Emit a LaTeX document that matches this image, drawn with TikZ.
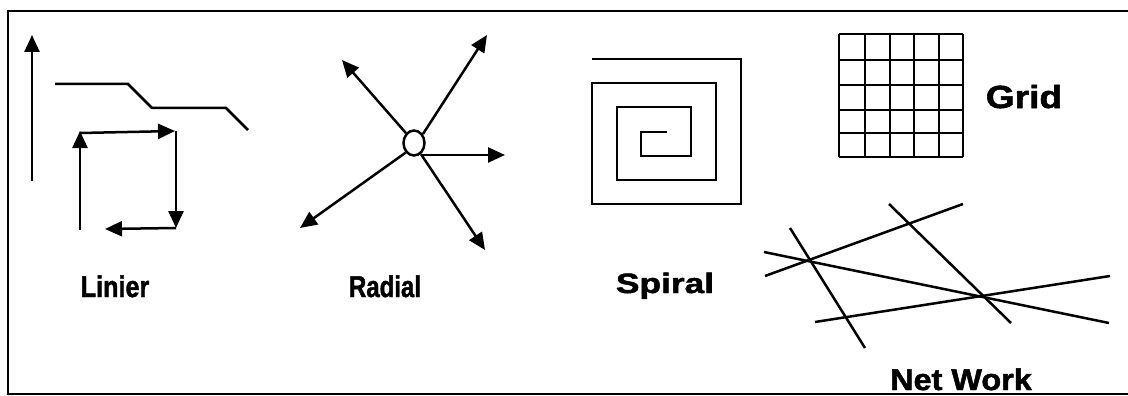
\documentclass[tikz,border=0pt]{standalone}
\usepackage{fontspec}
\setmainfont{Liberation Sans}
\newfontfamily\heavyfont[FakeBold=1.6]{Liberation Sans Bold}
\usetikzlibrary{arrows.meta,shapes.geometric}
\begin{document}
\begin{tikzpicture}[x=1pt,y=-1pt,
  ln/.style={line width=2.5pt},
  arr/.style={ln,-{Triangle[length=17pt,width=15pt]}},
  lbl/.style={inner sep=0pt,anchor=base,font=\heavyfont}]
\useasboundingbox (0,0) rectangle (1128,396);
% frame (open on the right)
\draw[ln] (1128,11) -- (8,11) -- (8,394) -- (1128,394);

% ---------- Linier ----------
\coordinate (v0) at (32,181); \coordinate (v1) at (32,35);
\draw[arr] (v0) -- (v1);
\draw[ln] (55,84) -- (128,84) -- (152,108) -- (226,108) -- (248,130);
\coordinate (s0) at (80,230); \coordinate (s1) at (80,131);
\coordinate (s2) at (80,133); \coordinate (s3) at (175,131);
\coordinate (s4) at (176,131); \coordinate (s5) at (176,228);
\coordinate (s6) at (176,228); \coordinate (s7) at (105,229);
\draw[arr] (s0) -- (s1);
\draw[arr] (s2) -- (s3);
\draw[arr] (s4) -- (s5);
\draw[arr] (s6) -- (s7);
\node[lbl] (tLin) at (115,297) {\fontsize{30}{30}\selectfont\scalebox{0.84}[1]{Linier}};

% ---------- Radial ----------
\node[draw,ellipse,ln,minimum width=21pt,minimum height=25pt,inner sep=0pt] (hub) at (414,143) {};
\coordinate (r1) at (342,60);
\coordinate (r2) at (487,35);
\coordinate (r3) at (505,155);
\coordinate (r4) at (485,250);
\coordinate (r5) at (300,228);
\draw[arr] (hub.129) -- (r1);
\draw[arr] (hub.45) -- (r2);
\draw[arr] (hub.-50 |- r3) -- (r3);
\draw[arr] (hub.-58) -- (r4);
\draw[arr] (hub.-131) -- (r5);
\node[lbl] (tRad) at (385,297) {\fontsize{30}{30}\selectfont\scalebox{0.8}[1]{Radial}};

% ---------- Spiral ----------
\draw[ln] (592,59) -- (741,59) -- (741,204) -- (592,204) -- (592,83)
  -- (716,83) -- (716,180) -- (617,180) -- (617,107) -- (691,107)
  -- (691,156) -- (641,156) -- (641,132) -- (667,132);
\node[lbl] (tSpi) at (665,293) {\fontsize{28}{28}\selectfont\scalebox{1.26}[1]{Spiral}};

% ---------- Grid ----------
\foreach \x in {839,865,890,914,939,963} \draw[ln] (\x,34) -- (\x,157);
\foreach \y in {34,60,85,110,133,157} \draw[ln] (839,\y) -- (963,\y);
\node[lbl] (tGrid) at (1024,108) {\fontsize{32}{32}\selectfont\scalebox{1.16}[1]{Grid}};

% ---------- Net Work ----------
\coordinate (a0) at (764,252); \coordinate (a1) at (1109,323);
\coordinate (b0) at (765,276); \coordinate (b1) at (963,204);
\coordinate (c0) at (790,228); \coordinate (c1) at (865,348);
\coordinate (d0) at (889,204); \coordinate (d1) at (1011,323);
\coordinate (e0) at (815,322); \coordinate (e1) at (1110,276);
\draw[ln] (a0) -- (a1);
\draw[ln] (b0) -- (b1);
\draw[ln] (c0) -- (c1);
\draw[ln] (d0) -- (d1);
\draw[ln] (e0) -- (e1);
\node[lbl] (tNet) at (961,390) {\fontsize{30}{30}\selectfont\scalebox{1.08}[1]{Net Work}};
\end{tikzpicture}
\end{document}
